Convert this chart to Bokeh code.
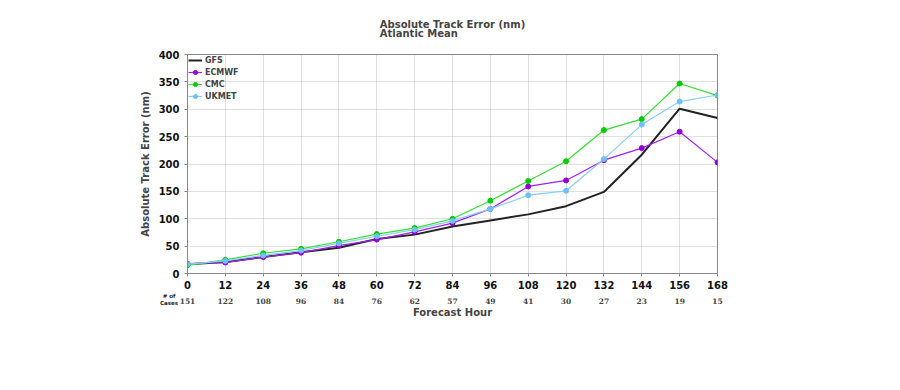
from bokeh.plotting import figure
from bokeh.layouts import column
from bokeh.models import (LinearAxis, FixedTicker, Title, Legend, LegendItem, Range1d, Div)
from bokeh.embed import file_html
from bokeh.resources import INLINE

hours = [0, 12, 24, 36, 48, 60, 72, 84, 96, 108, 120, 132, 144, 156, 168]
cases = [151, 122, 108, 96, 84, 76, 62, 57, 49, 41, 30, 27, 23, 19, 15]
gfs = [17, 21, 30, 39, 47, 63, 71, 86, 97, 108, 123, 149, 217, 301, 284]
ecmwf = [18, 20, 30, 38, 51, 62, 76, 92, 118, 159, 170, 207, 229, 259, 203]
cmc = [15, 25, 37, 45, 58, 72, 83, 100, 133, 169, 205, 262, 282, 347, 325]
ukmet = [17, 23, 33, 42, 55, 68, 80, 96, 118, 143, 151, 209, 272, 314, 326]

FONT = "DejaVu Sans"

p = figure(width=884, height=373, output_backend="svg", toolbar_location=None,
           x_range=Range1d(0, 168), y_range=Range1d(0, 400),
           min_border_left=187, min_border_right=167, min_border_bottom=100,
           min_border_top=54)
p.title = None

p.add_layout(Title(text="Absolute Track Error (nm)\nAtlantic Mean", align="center",
                   text_font=FONT, text_font_size="10px", text_font_style="bold",
                   text_line_height=0.85, standoff=31), "above")

p.outline_line_color = "#888888"
p.outline_line_width = 1

# axes
p.xaxis.ticker = FixedTicker(ticks=hours)
p.yaxis.ticker = FixedTicker(ticks=list(range(0, 401, 50)))
for ax in (p.xaxis[0], p.yaxis[0]):
    ax.major_label_text_font = FONT
    ax.major_label_text_font_size = "10px"
    ax.major_label_text_font_style = "bold"
    ax.major_label_text_color = "#111111"
    ax.axis_line_color = "#888888"
    ax.major_tick_line_color = "#888888"
    ax.major_tick_in = 0
    ax.major_tick_out = 3
    ax.minor_tick_line_color = None
p.yaxis.axis_label = "Absolute Track Error (nm)"
p.yaxis.axis_label_text_font = FONT
p.yaxis.axis_label_text_font_size = "10px"
p.yaxis.axis_label_text_font_style = "bold"
p.yaxis.axis_label_standoff = 5
p.xaxis.major_label_standoff = 4

case_axis = LinearAxis(ticker=FixedTicker(ticks=hours),
                       major_label_overrides={h: str(c) for h, c in zip(hours, cases)})
case_axis.axis_line_color = None
case_axis.major_tick_line_color = None
case_axis.minor_tick_line_color = None
case_axis.major_label_text_font = "DejaVu Serif"
case_axis.major_label_text_font_size = "7.5px"
case_axis.major_label_text_font_style = "bold"
case_axis.major_label_standoff = 0
case_axis.axis_label = "Forecast Hour"
case_axis.axis_label_text_font = FONT
case_axis.axis_label_text_font_size = "10px"
case_axis.axis_label_text_font_style = "bold"
case_axis.axis_label_standoff = 0
p.add_layout(case_axis, "below")

# grid
p.xgrid.grid_line_color = "#b0b0b0"
p.ygrid.grid_line_color = "#b0b0b0"
p.xgrid.grid_line_dash = "1 1"
p.ygrid.grid_line_dash = "1 1"
p.xgrid.grid_line_width = 0.8
p.ygrid.grid_line_width = 0.8

# series
r_g = p.line(hours, gfs, line_color="#222222", line_width=2)
l_e = p.line(hours, ecmwf, line_color="#a020f0", line_width=1.2)
s_e = p.scatter(hours, ecmwf, size=5, color="#9400d3")
l_c = p.line(hours, cmc, line_color="#33dd33", line_width=1.2)
s_c = p.scatter(hours, cmc, size=5, color="#00cc00")
l_u = p.line(hours, ukmet, line_color="#87cefa", line_width=1.2)
s_u = p.scatter(hours, ukmet, size=5, color="#6ec1f5")

legend = Legend(items=[
    LegendItem(label="GFS", renderers=[r_g]),
    LegendItem(label="ECMWF", renderers=[l_e, s_e]),
    LegendItem(label="CMC", renderers=[l_c, s_c]),
    LegendItem(label="UKMET", renderers=[l_u, s_u]),
], location="top_left")
legend.label_text_font = FONT
legend.label_text_font_size = "8px"
legend.label_text_font_style = "bold"
legend.border_line_color = None
legend.background_fill_alpha = 0
legend.glyph_width = 14
legend.glyph_height = 10
legend.label_height = 10
legend.spacing = 2
legend.padding = 2
legend.margin = 1
legend.label_standoff = 3
p.add_layout(legend)

# "# of Cases" note, left of the case counts (outside the plot frame)
note = Div(text="# of<br>Cases", width=22, height=14, margin=(-80, 0, 0, 158),
           styles={"font-family": FONT, "font-size": "5.5px", "font-weight": "bold",
                   "line-height": "7px", "text-align": "center", "color": "#222222"})

layout = column(p, note, spacing=0)
open("out.html", "w").write(file_html(layout, INLINE))
